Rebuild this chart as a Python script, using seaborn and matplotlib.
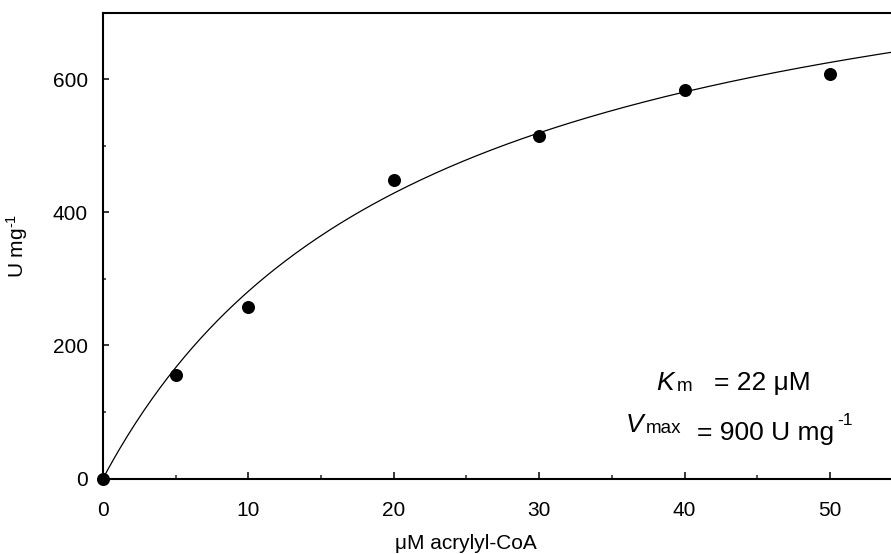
import numpy as np
import pandas as pd
import matplotlib
matplotlib.use("Agg")
import matplotlib.pyplot as plt
from matplotlib.ticker import MultipleLocator
import seaborn as sns

# Measured activity vs. acrylyl-CoA concentration
substrate_uM = [0, 5, 10, 20, 30, 40, 50]
activity_U_mg = [0, 155, 257, 448, 515, 583, 607]

# Fitted Michaelis-Menten parameters
Km_uM = 22
Vmax_U_mg = 900

sns.set_theme(style="ticks")
plt.rcParams["font.family"] = ["Liberation Sans", "DejaVu Sans"]
plt.rcParams["mathtext.fontset"] = "custom"
plt.rcParams["mathtext.rm"] = "Liberation Sans"
plt.rcParams["mathtext.it"] = "Liberation Sans:italic"

W, H = 891, 554
fig = plt.figure(figsize=(W / 100, H / 100), dpi=100)
ax_left, ax_right, ax_top, ax_bottom = 103, 891, 12.5, 478.5
ax = fig.add_axes([ax_left / W, 1 - ax_bottom / H,
                   (ax_right - ax_left) / W, (ax_bottom - ax_top) / H])

points = pd.DataFrame({"S": substrate_uM, "v": activity_U_mg})
s_fit = np.linspace(0, 56, 300)
fit = pd.DataFrame({"S": s_fit, "v": Vmax_U_mg * s_fit / (Km_uM + s_fit)})

sns.lineplot(data=fit, x="S", y="v", ax=ax, color="black", linewidth=0.9)
sns.scatterplot(data=points, x="S", y="v", ax=ax, color="black", s=88,
                linewidth=0, zorder=5, clip_on=False)

ax.set_xlim(0, (ax_right - ax_left) / 14.54)
ax.set_ylim(0, 700)
ax.xaxis.set_major_locator(MultipleLocator(10))
ax.xaxis.set_minor_locator(MultipleLocator(5))
ax.yaxis.set_major_locator(MultipleLocator(200))
ax.yaxis.set_minor_locator(MultipleLocator(100))

for side in ["left", "bottom", "top"]:
    ax.spines[side].set_linewidth(1.5)
    ax.spines[side].set_color("black")
ax.spines["right"].set_visible(False)

ax.tick_params(axis="x", which="major", direction="in", length=5, width=1.1,
               pad=16, labelsize=15, colors="black")
ax.tick_params(axis="x", which="minor", direction="in", length=3, width=1.1)
ax.tick_params(axis="y", which="major", direction="in", length=4, width=1.1,
               pad=11, labelsize=15, colors="black")
ax.tick_params(axis="y", which="minor", direction="in", length=2.4, width=1.1)
ax.tick_params(top=False, right=False, which="both")

ax.set_xlabel("μM acrylyl-CoA", fontsize=15, color="black")
ax.set_ylabel(r"U mg$^{\text{-1}}$", fontsize=15, color="black")
ax.xaxis.set_label_coords((466 - ax_left) / (ax_right - ax_left),
                          -(534 - ax_bottom) / (ax_bottom - ax_top))
ax.yaxis.set_label_coords(-(ax_left - 30) / (ax_right - ax_left), 0.5)


def ptext(x, y, s, **kw):
    fig.text(x / W, 1 - y / H, s, va="baseline", ha="left", color="black", **kw)


# Kinetic constants annotation
ptext(656, 390, "K", fontsize=19, style="italic")
ptext(677, 391, "m", fontsize=13.5)
ptext(714, 390, "= 22 μM", fontsize=19)
ptext(626, 432, "V", fontsize=19, style="italic")
ptext(646, 433, "max", fontsize=13.5)
ptext(697, 440, "= 900 U mg", fontsize=19)
ptext(837, 425, "-1", fontsize=12.5)

fig.savefig("out.png", dpi=100)
